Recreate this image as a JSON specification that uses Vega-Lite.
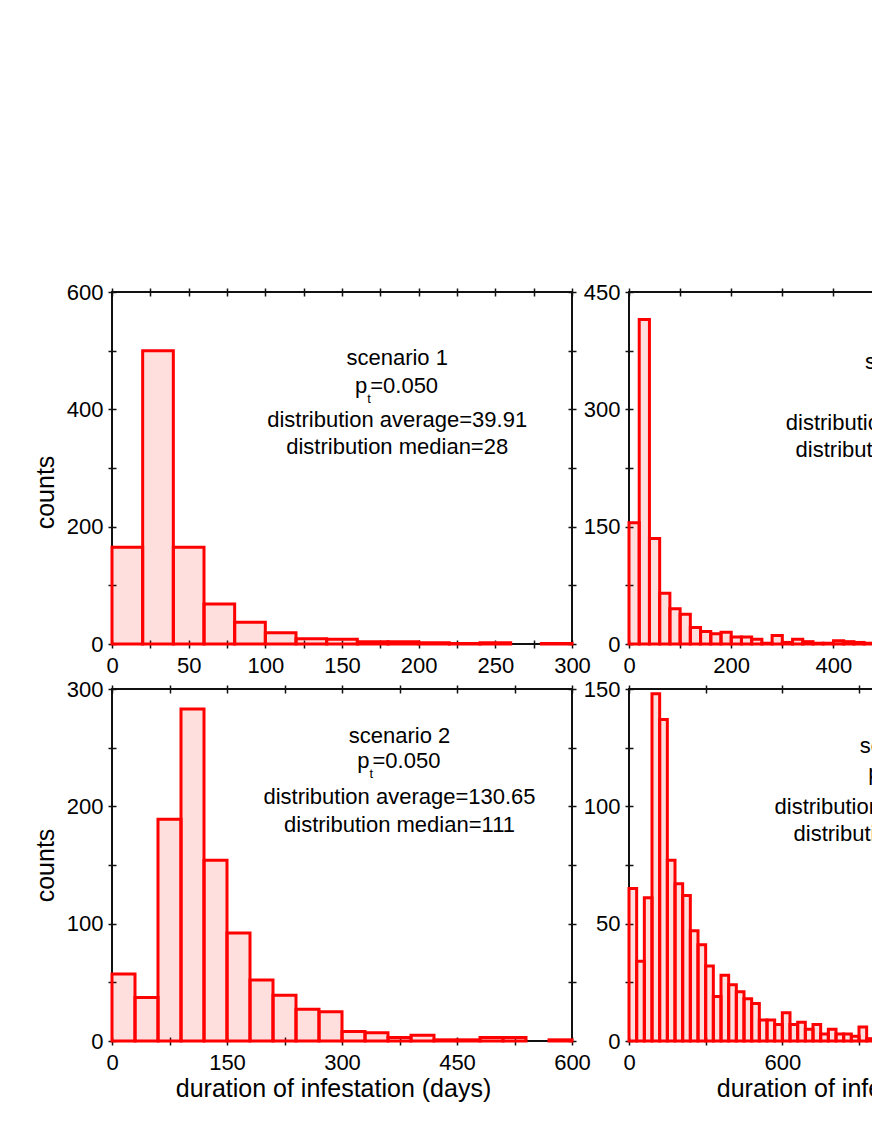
{
  "$schema": "https://vega.github.io/schema/vega-lite/v6.json",
  "padding": {"left": 32, "top": 280, "right": 0, "bottom": 0},
  "bounds": "flush",
  "columns": 2,
  "spacing": {"row": 45, "column": 57},
  "datasets": {
    "s1": [
      {"start": 0, "end": 20, "count": 165},
      {"start": 20, "end": 40, "count": 500},
      {"start": 40, "end": 60, "count": 165},
      {"start": 60, "end": 80, "count": 68},
      {"start": 80, "end": 100, "count": 37},
      {"start": 100, "end": 120, "count": 19},
      {"start": 120, "end": 140, "count": 9},
      {"start": 140, "end": 160, "count": 8},
      {"start": 160, "end": 180, "count": 4},
      {"start": 180, "end": 200, "count": 4},
      {"start": 200, "end": 220, "count": 2},
      {"start": 220, "end": 240, "count": 1},
      {"start": 240, "end": 260, "count": 2},
      {"start": 280, "end": 300, "count": 1}
    ],
    "s2": [
      {"start": 0, "end": 20, "count": 155},
      {"start": 20, "end": 40, "count": 415},
      {"start": 40, "end": 60, "count": 135},
      {"start": 60, "end": 80, "count": 65},
      {"start": 80, "end": 100, "count": 45},
      {"start": 100, "end": 120, "count": 38},
      {"start": 120, "end": 140, "count": 21},
      {"start": 140, "end": 160, "count": 16},
      {"start": 160, "end": 180, "count": 13},
      {"start": 180, "end": 200, "count": 15},
      {"start": 200, "end": 220, "count": 9},
      {"start": 220, "end": 240, "count": 9},
      {"start": 240, "end": 260, "count": 6},
      {"start": 260, "end": 280, "count": 1},
      {"start": 280, "end": 300, "count": 11},
      {"start": 300, "end": 320, "count": 2},
      {"start": 320, "end": 340, "count": 6},
      {"start": 340, "end": 360, "count": 3},
      {"start": 360, "end": 380, "count": 1},
      {"start": 380, "end": 400, "count": 1},
      {"start": 400, "end": 420, "count": 4},
      {"start": 420, "end": 440, "count": 3},
      {"start": 440, "end": 460, "count": 2},
      {"start": 460, "end": 480, "count": 1}
    ],
    "s3": [
      {"start": 0, "end": 30, "count": 57},
      {"start": 30, "end": 60, "count": 37},
      {"start": 60, "end": 90, "count": 189},
      {"start": 90, "end": 120, "count": 283},
      {"start": 120, "end": 150, "count": 154},
      {"start": 150, "end": 180, "count": 92},
      {"start": 180, "end": 210, "count": 52},
      {"start": 210, "end": 240, "count": 39},
      {"start": 240, "end": 270, "count": 27},
      {"start": 270, "end": 300, "count": 25},
      {"start": 300, "end": 330, "count": 8},
      {"start": 330, "end": 360, "count": 7},
      {"start": 360, "end": 390, "count": 3},
      {"start": 390, "end": 420, "count": 5},
      {"start": 420, "end": 450, "count": 1},
      {"start": 450, "end": 480, "count": 1},
      {"start": 480, "end": 510, "count": 3},
      {"start": 510, "end": 540, "count": 3},
      {"start": 570, "end": 600, "count": 1}
    ],
    "s4": [
      {"start": 0, "end": 30, "count": 65},
      {"start": 30, "end": 60, "count": 34},
      {"start": 60, "end": 90, "count": 61},
      {"start": 90, "end": 120, "count": 148},
      {"start": 120, "end": 150, "count": 137},
      {"start": 150, "end": 180, "count": 77},
      {"start": 180, "end": 210, "count": 67},
      {"start": 210, "end": 240, "count": 62},
      {"start": 240, "end": 270, "count": 47},
      {"start": 270, "end": 300, "count": 41},
      {"start": 300, "end": 330, "count": 32},
      {"start": 330, "end": 360, "count": 19},
      {"start": 360, "end": 390, "count": 28},
      {"start": 390, "end": 420, "count": 24},
      {"start": 420, "end": 450, "count": 21},
      {"start": 450, "end": 480, "count": 18},
      {"start": 480, "end": 510, "count": 16},
      {"start": 510, "end": 540, "count": 9},
      {"start": 540, "end": 570, "count": 9},
      {"start": 570, "end": 600, "count": 7},
      {"start": 600, "end": 630, "count": 12},
      {"start": 630, "end": 660, "count": 7},
      {"start": 660, "end": 690, "count": 8},
      {"start": 690, "end": 720, "count": 5},
      {"start": 720, "end": 750, "count": 7},
      {"start": 750, "end": 780, "count": 3},
      {"start": 780, "end": 810, "count": 5},
      {"start": 810, "end": 840, "count": 3},
      {"start": 840, "end": 870, "count": 3},
      {"start": 870, "end": 900, "count": 2},
      {"start": 900, "end": 930, "count": 6},
      {"start": 930, "end": 960, "count": 1}
    ]
  },
  "concat": [
    {
      "width": 460, "height": 352,
      "data": {"name": "s1"},
      "layer": [
        {
          "mark": {"type": "bar", "fill": "#ff0000", "fillOpacity": 0.13, "stroke": "#ff0000", "strokeWidth": 3},
          "encoding": {
            "x": {"field": "start", "type": "quantitative", "scale": {"domain": [0, 300], "nice": false, "zero": false},
                  "axis": {"orient": "bottom", "values": [0, 25, 50, 75, 100, 125, 150, 175, 200, 225, 250, 275, 300], "labelExpr": "datum.value % 50 === 0 ? datum.label : ''", "title": null}},
            "x2": {"field": "end"},
            "y": {"field": "count", "type": "quantitative", "scale": {"domain": [0, 600], "nice": false},
                  "axis": {"orient": "left", "values": [0, 100, 200, 300, 400, 500, 600], "labelExpr": "datum.value % 200 === 0 ? datum.label : ''", "title": "counts", "titleY": 200}},
            "y2": {"datum": 0}
          }
        },
        {
          "mark": {"type": "bar", "opacity": 0},
          "encoding": {
            "x": {"field": "start", "type": "quantitative", "axis": {"orient": "top", "values": [0, 25, 50, 75, 100, 125, 150, 175, 200, 225, 250, 275, 300], "labels": false, "title": null}},
            "x2": {"field": "end"},
            "y": {"field": "count", "type": "quantitative", "axis": {"orient": "right", "values": [0, 100, 200, 300, 400, 500, 600], "labels": false, "title": null}},
            "y2": {"datum": 0}
          }
        },
        {"data": {"values": [{"label": "scenario 1"}]}, "mark": {"type": "text", "baseline": "middle", "align": "center"},
         "encoding": {"x": {"datum": 186, "type": "quantitative", "axis": null}, "y": {"datum": 487, "type": "quantitative", "axis": null}, "text": {"field": "label"}}},
        {"data": {"values": [{"label": "p"}]}, "mark": {"type": "text", "baseline": "middle", "align": "right", "dx": -30},
         "encoding": {"x": {"datum": 186, "type": "quantitative", "axis": null}, "y": {"datum": 440, "type": "quantitative", "axis": null}, "text": {"field": "label"}}},
        {"data": {"values": [{"label": "t"}]}, "mark": {"type": "text", "baseline": "middle", "align": "left", "dx": -30, "dy": 13, "fontSize": 13},
         "encoding": {"x": {"datum": 186, "type": "quantitative", "axis": null}, "y": {"datum": 440, "type": "quantitative", "axis": null}, "text": {"field": "label"}}},
        {"data": {"values": [{"label": "=0.050"}]}, "mark": {"type": "text", "baseline": "middle", "align": "left", "dx": -27},
         "encoding": {"x": {"datum": 186, "type": "quantitative", "axis": null}, "y": {"datum": 440, "type": "quantitative", "axis": null}, "text": {"field": "label"}}},
        {"data": {"values": [{"label": "distribution average=39.91"}]}, "mark": {"type": "text", "baseline": "middle", "align": "center"},
         "encoding": {"x": {"datum": 186, "type": "quantitative", "axis": null}, "y": {"datum": 381.7, "type": "quantitative", "axis": null}, "text": {"field": "label"}}},
        {"data": {"values": [{"label": "distribution median=28"}]}, "mark": {"type": "text", "baseline": "middle", "align": "center"},
         "encoding": {"x": {"datum": 186, "type": "quantitative", "axis": null}, "y": {"datum": 336, "type": "quantitative", "axis": null}, "text": {"field": "label"}}}
      ],
      "resolve": {"axis": {"x": "independent", "y": "independent"}}
    },
    {
      "width": 460, "height": 352,
      "data": {"name": "s2"},
      "layer": [
        {
          "mark": {"type": "bar", "fill": "#ff0000", "fillOpacity": 0.13, "stroke": "#ff0000", "strokeWidth": 3},
          "encoding": {
            "x": {"field": "start", "type": "quantitative", "scale": {"domain": [0, 900], "nice": false, "zero": false},
                  "axis": {"orient": "bottom", "values": [0, 100, 200, 300, 400, 500, 600, 700, 800, 900], "labelExpr": "datum.value % 200 === 0 ? datum.label : ''", "title": null}},
            "x2": {"field": "end"},
            "y": {"field": "count", "type": "quantitative", "scale": {"domain": [0, 450], "nice": false},
                  "axis": {"orient": "left", "values": [0, 75, 150, 225, 300, 375, 450], "labelExpr": "datum.value % 150 === 0 ? datum.label : ''", "title": null}},
            "y2": {"datum": 0}
          }
        },
        {
          "mark": {"type": "bar", "opacity": 0},
          "encoding": {
            "x": {"field": "start", "type": "quantitative", "axis": {"orient": "top", "values": [0, 100, 200, 300, 400, 500, 600, 700, 800, 900], "labels": false, "title": null}},
            "x2": {"field": "end"},
            "y": {"field": "count", "type": "quantitative", "axis": {"orient": "right", "values": [0, 75, 150, 225, 300, 375, 450], "labels": false, "title": null}},
            "y2": {"datum": 0}
          }
        },
        {"data": {"values": [{"label": "scenario 1"}]}, "mark": {"type": "text", "baseline": "middle", "align": "center"},
         "encoding": {"x": {"datum": 561, "type": "quantitative", "axis": null}, "y": {"datum": 360.6, "type": "quantitative", "axis": null}, "text": {"field": "label"}}},
        {"data": {"values": [{"label": "p"}]}, "mark": {"type": "text", "baseline": "middle", "align": "right", "dx": -30},
         "encoding": {"x": {"datum": 561, "type": "quantitative", "axis": null}, "y": {"datum": 326, "type": "quantitative", "axis": null}, "text": {"field": "label"}}},
        {"data": {"values": [{"label": "t"}]}, "mark": {"type": "text", "baseline": "middle", "align": "left", "dx": -30, "dy": 13, "fontSize": 13},
         "encoding": {"x": {"datum": 561, "type": "quantitative", "axis": null}, "y": {"datum": 326, "type": "quantitative", "axis": null}, "text": {"field": "label"}}},
        {"data": {"values": [{"label": "=0.010"}]}, "mark": {"type": "text", "baseline": "middle", "align": "left", "dx": -27},
         "encoding": {"x": {"datum": 561, "type": "quantitative", "axis": null}, "y": {"datum": 326, "type": "quantitative", "axis": null}, "text": {"field": "label"}}},
        {"data": {"values": [{"label": "distribution average=63.17"}]}, "mark": {"type": "text", "baseline": "middle", "align": "center"},
         "encoding": {"x": {"datum": 561, "type": "quantitative", "axis": null}, "y": {"datum": 282.4, "type": "quantitative", "axis": null}, "text": {"field": "label"}}},
        {"data": {"values": [{"label": "distribution median=33.5"}]}, "mark": {"type": "text", "baseline": "middle", "align": "center"},
         "encoding": {"x": {"datum": 561, "type": "quantitative", "axis": null}, "y": {"datum": 247.8, "type": "quantitative", "axis": null}, "text": {"field": "label"}}}
      ],
      "resolve": {"axis": {"x": "independent", "y": "independent"}}
    },
    {
      "width": 460, "height": 352,
      "data": {"name": "s3"},
      "layer": [
        {
          "mark": {"type": "bar", "fill": "#ff0000", "fillOpacity": 0.13, "stroke": "#ff0000", "strokeWidth": 3},
          "encoding": {
            "x": {"field": "start", "type": "quantitative", "scale": {"domain": [0, 600], "nice": false, "zero": false},
                  "axis": {"orient": "bottom", "values": [0, 75, 150, 225, 300, 375, 450, 525, 600], "labelExpr": "datum.value % 150 === 0 ? datum.label : ''", "title": "duration of infestation (days)", "titleX": 221}},
            "x2": {"field": "end"},
            "y": {"field": "count", "type": "quantitative", "scale": {"domain": [0, 300], "nice": false},
                  "axis": {"orient": "left", "values": [0, 50, 100, 150, 200, 250, 300], "labelExpr": "datum.value % 100 === 0 ? datum.label : ''", "title": "counts"}},
            "y2": {"datum": 0}
          }
        },
        {
          "mark": {"type": "bar", "opacity": 0},
          "encoding": {
            "x": {"field": "start", "type": "quantitative", "axis": {"orient": "top", "values": [0, 75, 150, 225, 300, 375, 450, 525, 600], "labels": false, "title": null}},
            "x2": {"field": "end"},
            "y": {"field": "count", "type": "quantitative", "axis": {"orient": "right", "values": [0, 50, 100, 150, 200, 250, 300], "labels": false, "title": null}},
            "y2": {"datum": 0}
          }
        },
        {"data": {"values": [{"label": "scenario 2"}]}, "mark": {"type": "text", "baseline": "middle", "align": "center"},
         "encoding": {"x": {"datum": 375, "type": "quantitative", "axis": null}, "y": {"datum": 260.2, "type": "quantitative", "axis": null}, "text": {"field": "label"}}},
        {"data": {"values": [{"label": "p"}]}, "mark": {"type": "text", "baseline": "middle", "align": "right", "dx": -30},
         "encoding": {"x": {"datum": 375, "type": "quantitative", "axis": null}, "y": {"datum": 238.4, "type": "quantitative", "axis": null}, "text": {"field": "label"}}},
        {"data": {"values": [{"label": "t"}]}, "mark": {"type": "text", "baseline": "middle", "align": "left", "dx": -30, "dy": 13, "fontSize": 13},
         "encoding": {"x": {"datum": 375, "type": "quantitative", "axis": null}, "y": {"datum": 238.4, "type": "quantitative", "axis": null}, "text": {"field": "label"}}},
        {"data": {"values": [{"label": "=0.050"}]}, "mark": {"type": "text", "baseline": "middle", "align": "left", "dx": -27},
         "encoding": {"x": {"datum": 375, "type": "quantitative", "axis": null}, "y": {"datum": 238.4, "type": "quantitative", "axis": null}, "text": {"field": "label"}}},
        {"data": {"values": [{"label": "distribution average=130.65"}]}, "mark": {"type": "text", "baseline": "middle", "align": "center"},
         "encoding": {"x": {"datum": 375, "type": "quantitative", "axis": null}, "y": {"datum": 207.7, "type": "quantitative", "axis": null}, "text": {"field": "label"}}},
        {"data": {"values": [{"label": "distribution median=111"}]}, "mark": {"type": "text", "baseline": "middle", "align": "center"},
         "encoding": {"x": {"datum": 375, "type": "quantitative", "axis": null}, "y": {"datum": 184.5, "type": "quantitative", "axis": null}, "text": {"field": "label"}}}
      ],
      "resolve": {"axis": {"x": "independent", "y": "independent"}}
    },
    {
      "width": 460, "height": 352,
      "data": {"name": "s4"},
      "layer": [
        {
          "mark": {"type": "bar", "fill": "#ff0000", "fillOpacity": 0.13, "stroke": "#ff0000", "strokeWidth": 3},
          "encoding": {
            "x": {"field": "start", "type": "quantitative", "scale": {"domain": [0, 1800], "nice": false, "zero": false},
                  "axis": {"orient": "bottom", "values": [0, 300, 600, 900, 1200, 1500, 1800], "labelExpr": "datum.value % 600 === 0 ? datum.label : ''", "title": "duration of infestation (days)", "titleX": 245}},
            "x2": {"field": "end"},
            "y": {"field": "count", "type": "quantitative", "scale": {"domain": [0, 150], "nice": false},
                  "axis": {"orient": "left", "values": [0, 25, 50, 75, 100, 125, 150], "labelExpr": "datum.value % 50 === 0 ? datum.label : ''", "title": null}},
            "y2": {"datum": 0}
          }
        },
        {
          "mark": {"type": "bar", "opacity": 0},
          "encoding": {
            "x": {"field": "start", "type": "quantitative", "axis": {"orient": "top", "values": [0, 300, 600, 900, 1200, 1500, 1800], "labels": false, "title": null}},
            "x2": {"field": "end"},
            "y": {"field": "count", "type": "quantitative", "axis": {"orient": "right", "values": [0, 25, 50, 75, 100, 125, 150], "labels": false, "title": null}},
            "y2": {"datum": 0}
          }
        },
        {"data": {"values": [{"label": "scenario 2"}]}, "mark": {"type": "text", "baseline": "middle", "align": "center"},
         "encoding": {"x": {"datum": 1102, "type": "quantitative", "axis": null}, "y": {"datum": 125.9, "type": "quantitative", "axis": null}, "text": {"field": "label"}}},
        {"data": {"values": [{"label": "p"}]}, "mark": {"type": "text", "baseline": "middle", "align": "right", "dx": -30},
         "encoding": {"x": {"datum": 1102, "type": "quantitative", "axis": null}, "y": {"datum": 114, "type": "quantitative", "axis": null}, "text": {"field": "label"}}},
        {"data": {"values": [{"label": "t"}]}, "mark": {"type": "text", "baseline": "middle", "align": "left", "dx": -30, "dy": 13, "fontSize": 13},
         "encoding": {"x": {"datum": 1102, "type": "quantitative", "axis": null}, "y": {"datum": 114, "type": "quantitative", "axis": null}, "text": {"field": "label"}}},
        {"data": {"values": [{"label": "=0.010"}]}, "mark": {"type": "text", "baseline": "middle", "align": "left", "dx": -27},
         "encoding": {"x": {"datum": 1102, "type": "quantitative", "axis": null}, "y": {"datum": 114, "type": "quantitative", "axis": null}, "text": {"field": "label"}}},
        {"data": {"values": [{"label": "distribution average=236.48"}]}, "mark": {"type": "text", "baseline": "middle", "align": "center"},
         "encoding": {"x": {"datum": 1102, "type": "quantitative", "axis": null}, "y": {"datum": 99.6, "type": "quantitative", "axis": null}, "text": {"field": "label"}}},
        {"data": {"values": [{"label": "distribution median=181"}]}, "mark": {"type": "text", "baseline": "middle", "align": "center"},
         "encoding": {"x": {"datum": 1102, "type": "quantitative", "axis": null}, "y": {"datum": 88.3, "type": "quantitative", "axis": null}, "text": {"field": "label"}}}
      ],
      "resolve": {"axis": {"x": "independent", "y": "independent"}}
    }
  ],
  "config": {
    "font": "Liberation Sans",
    "background": "white",
    "view": {"stroke": "#111111", "strokeWidth": 2},
    "text": {"font": "Liberation Sans", "fontSize": 22, "color": "#000000"},
    "axis": {
      "domain": false,
      "grid": false,
      "ticks": true,
      "offset": -4,
      "tickSize": 8,
      "tickWidth": 1.5,
      "tickColor": "#111111",
      "labelFont": "Liberation Sans",
      "labelFontSize": 22,
      "labelColor": "#000000",
      "labelFlush": false,
      "labelOverlap": false,
      "labelBound": false,
      "titleFont": "Liberation Sans",
      "titleFontSize": 25,
      "titleFontWeight": "normal",
      "titleColor": "#000000"
    },
    "axisX": {"labelPadding": 7, "titlePadding": 3},
    "axisY": {"labelPadding": 5, "titlePadding": 8}
  }
}
